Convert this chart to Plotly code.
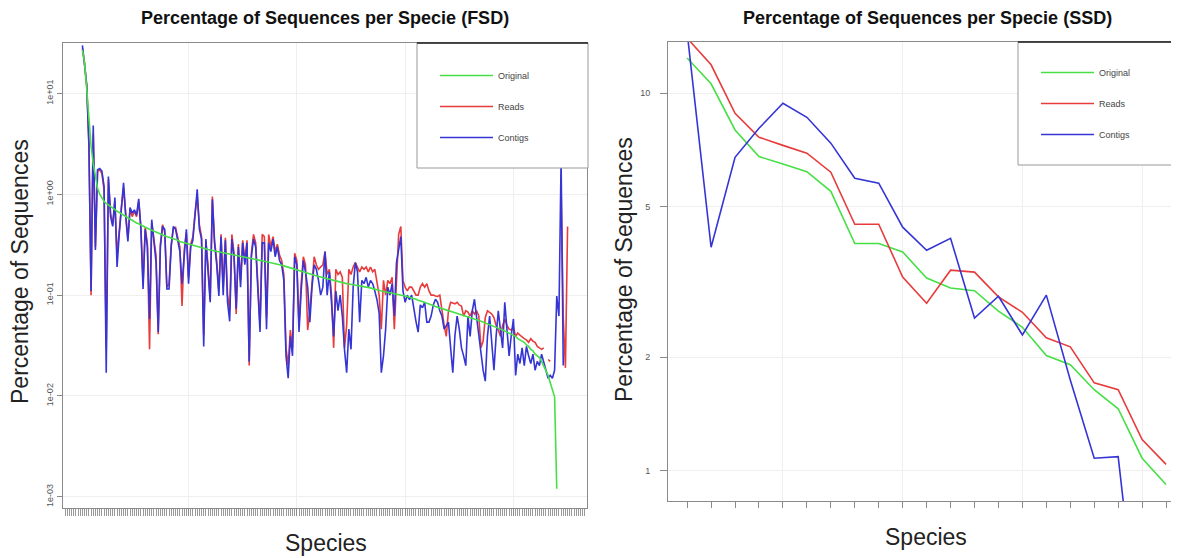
import plotly.graph_objects as go
from plotly.subplots import make_subplots

# ---------------- FSD (left panel) ----------------
fsd_original = [
    27, 20, 11, 5.5, 3.0, 2.0, 1.5, 1.15, 1.0, 0.92,
    0.85, 0.81, 0.78, 0.75, 0.73, 0.70, 0.68, 0.66, 0.64, 0.62,
    0.60, 0.58, 0.565, 0.55, 0.535, 0.52, 0.51, 0.495, 0.48, 0.47,
    0.46, 0.45, 0.44, 0.43, 0.42, 0.41, 0.40, 0.395, 0.385, 0.38,
    0.375, 0.37, 0.36, 0.355, 0.35, 0.34, 0.335, 0.33, 0.325, 0.32,
    0.315, 0.31, 0.305, 0.30, 0.297, 0.293, 0.29, 0.286, 0.283, 0.28,
    0.277, 0.274, 0.271, 0.268, 0.265, 0.262, 0.259, 0.256, 0.253, 0.25,
    0.248, 0.245, 0.242, 0.24, 0.238, 0.236, 0.233, 0.231, 0.229, 0.227,
    0.225, 0.223, 0.221, 0.219, 0.217, 0.215, 0.213, 0.211, 0.209, 0.207,
    0.204, 0.201, 0.198, 0.195, 0.192, 0.189, 0.186, 0.183, 0.18, 0.177,
    0.174, 0.171, 0.168, 0.165, 0.163, 0.161, 0.159, 0.157, 0.155, 0.153,
    0.151, 0.149, 0.147, 0.145, 0.143, 0.141, 0.139, 0.137, 0.135, 0.133,
    0.132, 0.131, 0.13, 0.129, 0.128, 0.127, 0.126, 0.125, 0.124, 0.123,
    0.122, 0.121, 0.119, 0.118, 0.116, 0.115, 0.113, 0.112, 0.11, 0.109,
    0.108, 0.107, 0.106, 0.105, 0.104, 0.103, 0.102, 0.101, 0.1, 0.098,
    0.097, 0.095, 0.094, 0.092, 0.091, 0.089, 0.088, 0.086, 0.085, 0.083,
    0.082, 0.08, 0.079, 0.077, 0.076, 0.075, 0.073, 0.072, 0.071, 0.07,
    0.069, 0.068, 0.067, 0.066, 0.065, 0.064, 0.063, 0.062, 0.061, 0.06,
    0.059, 0.058, 0.057, 0.056, 0.055, 0.054, 0.053, 0.052, 0.051, 0.05,
    0.049, 0.048, 0.047, 0.046, 0.045, 0.044, 0.043, 0.042, 0.041, 0.04,
    0.039, 0.037, 0.036, 0.035, 0.034, 0.032, 0.031, 0.029, 0.028, 0.026,
    0.025, 0.024, 0.022, 0.02, 0.018, 0.016, 0.0135, 0.0115, 0.0098, 0.0012,
    None, None, None, None, None,
]

fsd_reads = [
    28, 20, 12, 3.2, 0.1, 4.0, 0.3, 1.7, 1.75, 1.6,
    1.1, 0.03, 1.4, 0.65, 0.5, 0.85, 0.25, 0.45, 0.75, 1.15,
    0.62, 0.36, 0.72, 0.6, 0.68, 0.6, 0.85, 0.48, 0.13, 0.47,
    0.32, 0.029, 0.52, 0.36, 0.25, 0.041, 0.32, 0.5, 0.42, 0.12,
    0.13, 0.32, 0.46, 0.47, 0.38, 0.3, 0.078, 0.28, 0.42, 0.15,
    0.32, 0.38, 0.65, 0.95, 0.5, 0.38, 0.04, 0.34, 0.2, 0.09,
    0.95, 0.35, 0.22, 0.11, 0.4, 0.12, 0.37, 0.1, 0.07, 0.4,
    0.26, 0.065, 0.32, 0.14, 0.35, 0.22, 0.35, 0.02, 0.26, 0.4,
    0.33, 0.14, 0.05, 0.4, 0.38, 0.06, 0.4, 0.3, 0.38, 0.27,
    0.32, 0.25, 0.22, 0.16, 0.03, 0.02, 0.045, 0.03, 0.26, 0.22,
    0.05, 0.13, 0.24, 0.2, 0.045, 0.07, 0.14, 0.24, 0.2, 0.18,
    0.19, 0.2, 0.27, 0.16, 0.18, 0.1, 0.03, 0.18, 0.16, 0.17,
    0.15, 0.03, 0.05, 0.18, 0.16, 0.19, 0.21, 0.19, 0.17, 0.19,
    0.18, 0.19, 0.17, 0.19, 0.17, 0.18, 0.14, 0.1, 0.046, 0.14,
    0.1, 0.14, 0.13, 0.15, 0.046, 0.14, 0.4, 0.48, 0.14, 0.12,
    0.11, 0.12, 0.12, 0.11, 0.1, 0.1, 0.12, 0.13, 0.12, 0.13,
    0.11, 0.1, 0.1, 0.098, 0.097, 0.1, 0.066, 0.05, 0.039, 0.07,
    0.085, 0.084, 0.082, 0.085, 0.08, 0.078, 0.062, 0.07, 0.068, 0.062,
    0.07, 0.065, 0.07, 0.062, 0.03, 0.035, 0.06, 0.07, 0.068, 0.065,
    0.06, 0.05, 0.045, 0.039, 0.05, 0.058, 0.05, 0.046, 0.045, 0.048,
    0.039, 0.042, 0.04, 0.038, 0.037, 0.036, 0.034, 0.037, 0.035, 0.034,
    0.031, 0.03, 0.029, 0.03, None, 0.023, 0.022, None, None, None,
    None, 1.2, 0.06, 0.019, 0.48,
]

fsd_contigs = [
    30, 20, 12, 3.0, 0.11, 4.8, 0.28, 1.75, 1.8, 1.7,
    1.2, 0.017, 1.5, 0.6, 0.48, 0.93, 0.19, 0.4, 0.71, 1.3,
    0.6, 0.34, 0.74, 0.65, 0.7, 0.62, 0.9, 0.45, 0.115, 0.45,
    0.3, 0.058, 0.56, 0.35, 0.21, 0.043, 0.3, 0.48, 0.45, 0.115,
    0.115, 0.3, 0.48, 0.45, 0.35, 0.27, 0.13, 0.25, 0.45, 0.13,
    0.3, 0.35, 0.7, 1.12, 0.45, 0.36, 0.031, 0.36, 0.17, 0.085,
    0.89, 0.33, 0.2, 0.098, 0.38, 0.1, 0.35, 0.085, 0.055, 0.36,
    0.24, 0.073, 0.3, 0.12, 0.33, 0.2, 0.33, 0.022, 0.24, 0.36,
    0.3, 0.12, 0.043, 0.33, 0.33, 0.046, 0.33, 0.27, 0.36, 0.24,
    0.3, 0.22, 0.2, 0.14, 0.025, 0.015, 0.039, 0.025, 0.24, 0.2,
    0.043, 0.11, 0.22, 0.17, 0.12, 0.054, 0.12, 0.2, 0.18, 0.14,
    0.1, 0.12, 0.27, 0.1, 0.17, 0.085, 0.039, 0.11, 0.07, 0.1,
    0.062, 0.029, 0.017, 0.046, 0.029, 0.12, 0.21, 0.17, 0.054, 0.14,
    0.13, 0.15, 0.12, 0.14, 0.13, 0.11, 0.09, 0.066, 0.017, 0.025,
    0.046, 0.12, 0.1, 0.13, 0.062, 0.21, 0.3, 0.38, 0.11, 0.085,
    0.1, 0.09, 0.1, 0.07, 0.055, 0.043, 0.08, 0.075, 0.085, 0.054,
    0.054, 0.062, 0.08, 0.091, 0.085, 0.07, 0.062, 0.046, 0.05, 0.054,
    0.03, 0.017, 0.04, 0.062, 0.046, 0.03, 0.025, 0.02, 0.062, 0.039,
    0.07, 0.091, 0.06, 0.039, 0.025, 0.018, 0.014, 0.039, 0.062, 0.03,
    0.018, 0.039, 0.07, 0.045, 0.03, 0.085, 0.045, 0.025, 0.04, 0.058,
    0.016, 0.026, 0.021, 0.03, 0.02, 0.031, 0.025, 0.021, 0.026, 0.018,
    0.022, 0.02, 0.026, 0.021, 0.018, 0.015, 0.016, 0.015, 0.018, 0.098,
    0.062, 2.2, 0.02, None, None,
]

fsd_species = list(range(1, len(fsd_original) + 1))

# ---------------- SSD (right panel) ----------------
ssd_original = [12.4, 10.6, 8.0, 6.8, 6.5, 6.2, 5.5, 4.0, 4.0, 3.8, 3.24,
                3.05, 3.0, 2.65, 2.4, 2.02, 1.91, 1.64, 1.46, 1.08, 0.92]
ssd_reads = [14.0, 11.9, 8.85, 7.65, 7.28, 6.94, 6.18, 4.5, 4.5, 3.26, 2.78,
             3.4, 3.36, 2.89, 2.63, 2.25, 2.13, 1.71, 1.64, 1.21, 1.04]
ssd_contigs = [14.5, 3.91, 6.77, 8.08, 9.41, 8.64, 7.38, 5.96, 5.78, 4.42, 3.84,
               4.13, 2.54, 2.9, 2.29, 2.92, 1.74, 1.08, 1.09, 0.3, 0.2]
ssd_species = list(range(1, len(ssd_original) + 1))

fsd_tickvals = [10, 1, 0.1, 0.01, 0.001]
fsd_ticktext = ["1e+01", "1e+00", "1e-01", "1e-02", "1e-03"]
ssd_tickvals = [1, 2, 5, 10]
ssd_ticktext = ["1", "2", "5", "10"]

GREEN = "#46e046"
RED = "#e83c3c"
BLUE = "#3535d6"

# the page body has an 8px margin; the figure is sized to fill the rest
OFF = 8
W = 1179 - OFF
H = 558 - OFF


def px_x(p):
    return (p - OFF) / W


def px_y(p):
    return 1 - (p - OFF) / H


fig = make_subplots(rows=1, cols=2)

colors = {"Original": GREEN, "Reads": RED, "Contigs": BLUE}
ranks = {"Original": 1, "Reads": 2, "Contigs": 3}
fsd_data = {"Original": fsd_original, "Reads": fsd_reads, "Contigs": fsd_contigs}
ssd_data = {"Original": ssd_original, "Reads": ssd_reads, "Contigs": ssd_contigs}

for name in ["Reads", "Contigs", "Original"]:
    fig.add_trace(go.Scatter(x=fsd_species, y=fsd_data[name], mode="lines", name=name,
                             line=dict(color=colors[name], width=1.6), legend="legend",
                             legendgroup="f" + name, legendrank=ranks[name]), row=1, col=1)
for name in ["Original", "Reads", "Contigs"]:
    fig.add_trace(go.Scatter(x=ssd_species, y=ssd_data[name], mode="lines", name=name,
                             line=dict(color=colors[name], width=1.6), legend="legend2",
                             legendgroup="s" + name, legendrank=ranks[name]), row=1, col=2)

grid = "#efefef"
axcol = "#8a8a8a"

fig.update_layout(
    width=W, height=H, margin=dict(l=0, r=0, t=0, b=0),
    paper_bgcolor="white", plot_bgcolor="white",
    font=dict(family="Liberation Sans, Arial, sans-serif", color="#222"),
    xaxis=dict(domain=[px_x(63), px_x(587)], range=[-7.96, 233.96],
               tickvals=[50, 100, 150, 200], showticklabels=False,
               ticks="outside", ticklen=7, tickcolor=axcol, tickwidth=1,
               showgrid=True, gridcolor=grid, zeroline=False,
               showline=True, linecolor=axcol, mirror=True,
               minor=dict(tickmode="linear", tick0=1, dtick=1, ticks="outside",
                          ticklen=7, tickcolor="#999", tickwidth=1, showgrid=False)),
    yaxis=dict(domain=[px_y(508), px_y(42.7)], type="log", range=[-3.111, 1.503],
               tickvals=fsd_tickvals, ticktext=fsd_ticktext, tickangle=-90,
               tickfont=dict(size=9, color="#555"), ticks="outside", ticklen=5,
               tickcolor=axcol, showgrid=True, gridcolor=grid, zeroline=False,
               showline=True, linecolor=axcol, mirror=True),
    xaxis2=dict(domain=[px_x(668), 1.0], range=[0.2, 21.54],
                tickvals=[5, 10, 15, 20], showticklabels=False,
                ticks="outside", ticklen=6, tickcolor=axcol, tickwidth=1,
                showgrid=True, gridcolor=grid, zeroline=False,
                showline=True, linecolor=axcol, mirror=True,
                minor=dict(tickmode="linear", tick0=1, dtick=1, ticks="outside",
                           ticklen=6, tickcolor=axcol, tickwidth=1, showgrid=False)),
    yaxis2=dict(domain=[px_y(501), px_y(42)], type="log", range=[-0.080, 1.136],
                tickvals=ssd_tickvals, ticktext=ssd_ticktext,
                tickfont=dict(size=9, color="#555"), ticks="outside", ticklen=7,
                ticklabelstandoff=8,
                tickcolor=axcol, showgrid=True, gridcolor=grid, zeroline=False,
                showline=True, linecolor=axcol, mirror=True),
    legend=dict(x=px_x(435), y=px_y(61), xanchor="left", yanchor="top",
                bgcolor="rgba(0,0,0,0)", borderwidth=0, font=dict(size=9, color="#444"),
                itemwidth=53, tracegroupgap=12, traceorder="grouped"),
    legend2=dict(x=px_x(1036), y=px_y(58), xanchor="left", yanchor="top",
                 bgcolor="rgba(0,0,0,0)", borderwidth=0, font=dict(size=9, color="#444"),
                 itemwidth=53, tracegroupgap=12, traceorder="grouped"),
    showlegend=True,
)

# legend boxes
fig.add_shape(type="rect", xref="paper", yref="paper",
              x0=px_x(417), x1=px_x(588), y0=px_y(168), y1=px_y(43),
              line=dict(color="#999", width=1), fillcolor="white", layer="above")
fig.add_shape(type="line", xref="paper", yref="paper",
              x0=px_x(417), x1=px_x(588), y0=px_y(43), y1=px_y(43),
              line=dict(color="#222", width=1.5), layer="above")
fig.add_shape(type="rect", xref="paper", yref="paper",
              x0=px_x(1018), x1=1.0, y0=px_y(165), y1=px_y(42),
              line=dict(color="#999", width=1), fillcolor="white", layer="above")
fig.add_shape(type="line", xref="paper", yref="paper",
              x0=px_x(1018), x1=1.0, y0=px_y(42), y1=px_y(42),
              line=dict(color="#222", width=1.5), layer="above")

ann = [
    dict(text="<b>Percentage of Sequences per Specie (FSD)</b>", x=px_x(325), y=px_y(18),
         font=dict(size=18, color="#111")),
    dict(text="<b>Percentage of Sequences per Specie (SSD)</b>", x=px_x(927), y=px_y(18),
         font=dict(size=18, color="#111")),
    dict(text="Percentage of Sequences", x=px_x(20), y=px_y(272), textangle=-90,
         font=dict(size=23, color="#222")),
    dict(text="Percentage of Sequences", x=px_x(624), y=px_y(270), textangle=-90,
         font=dict(size=23, color="#222")),
    dict(text="Species", x=px_x(326), y=px_y(543), font=dict(size=23, color="#222")),
    dict(text="Species", x=px_x(926), y=px_y(537), font=dict(size=23, color="#222")),
]
for a in ann:
    fig.add_annotation(xref="paper", yref="paper", showarrow=False,
                       xanchor="center", yanchor="middle", **a)

fig.write_html("out.html")
